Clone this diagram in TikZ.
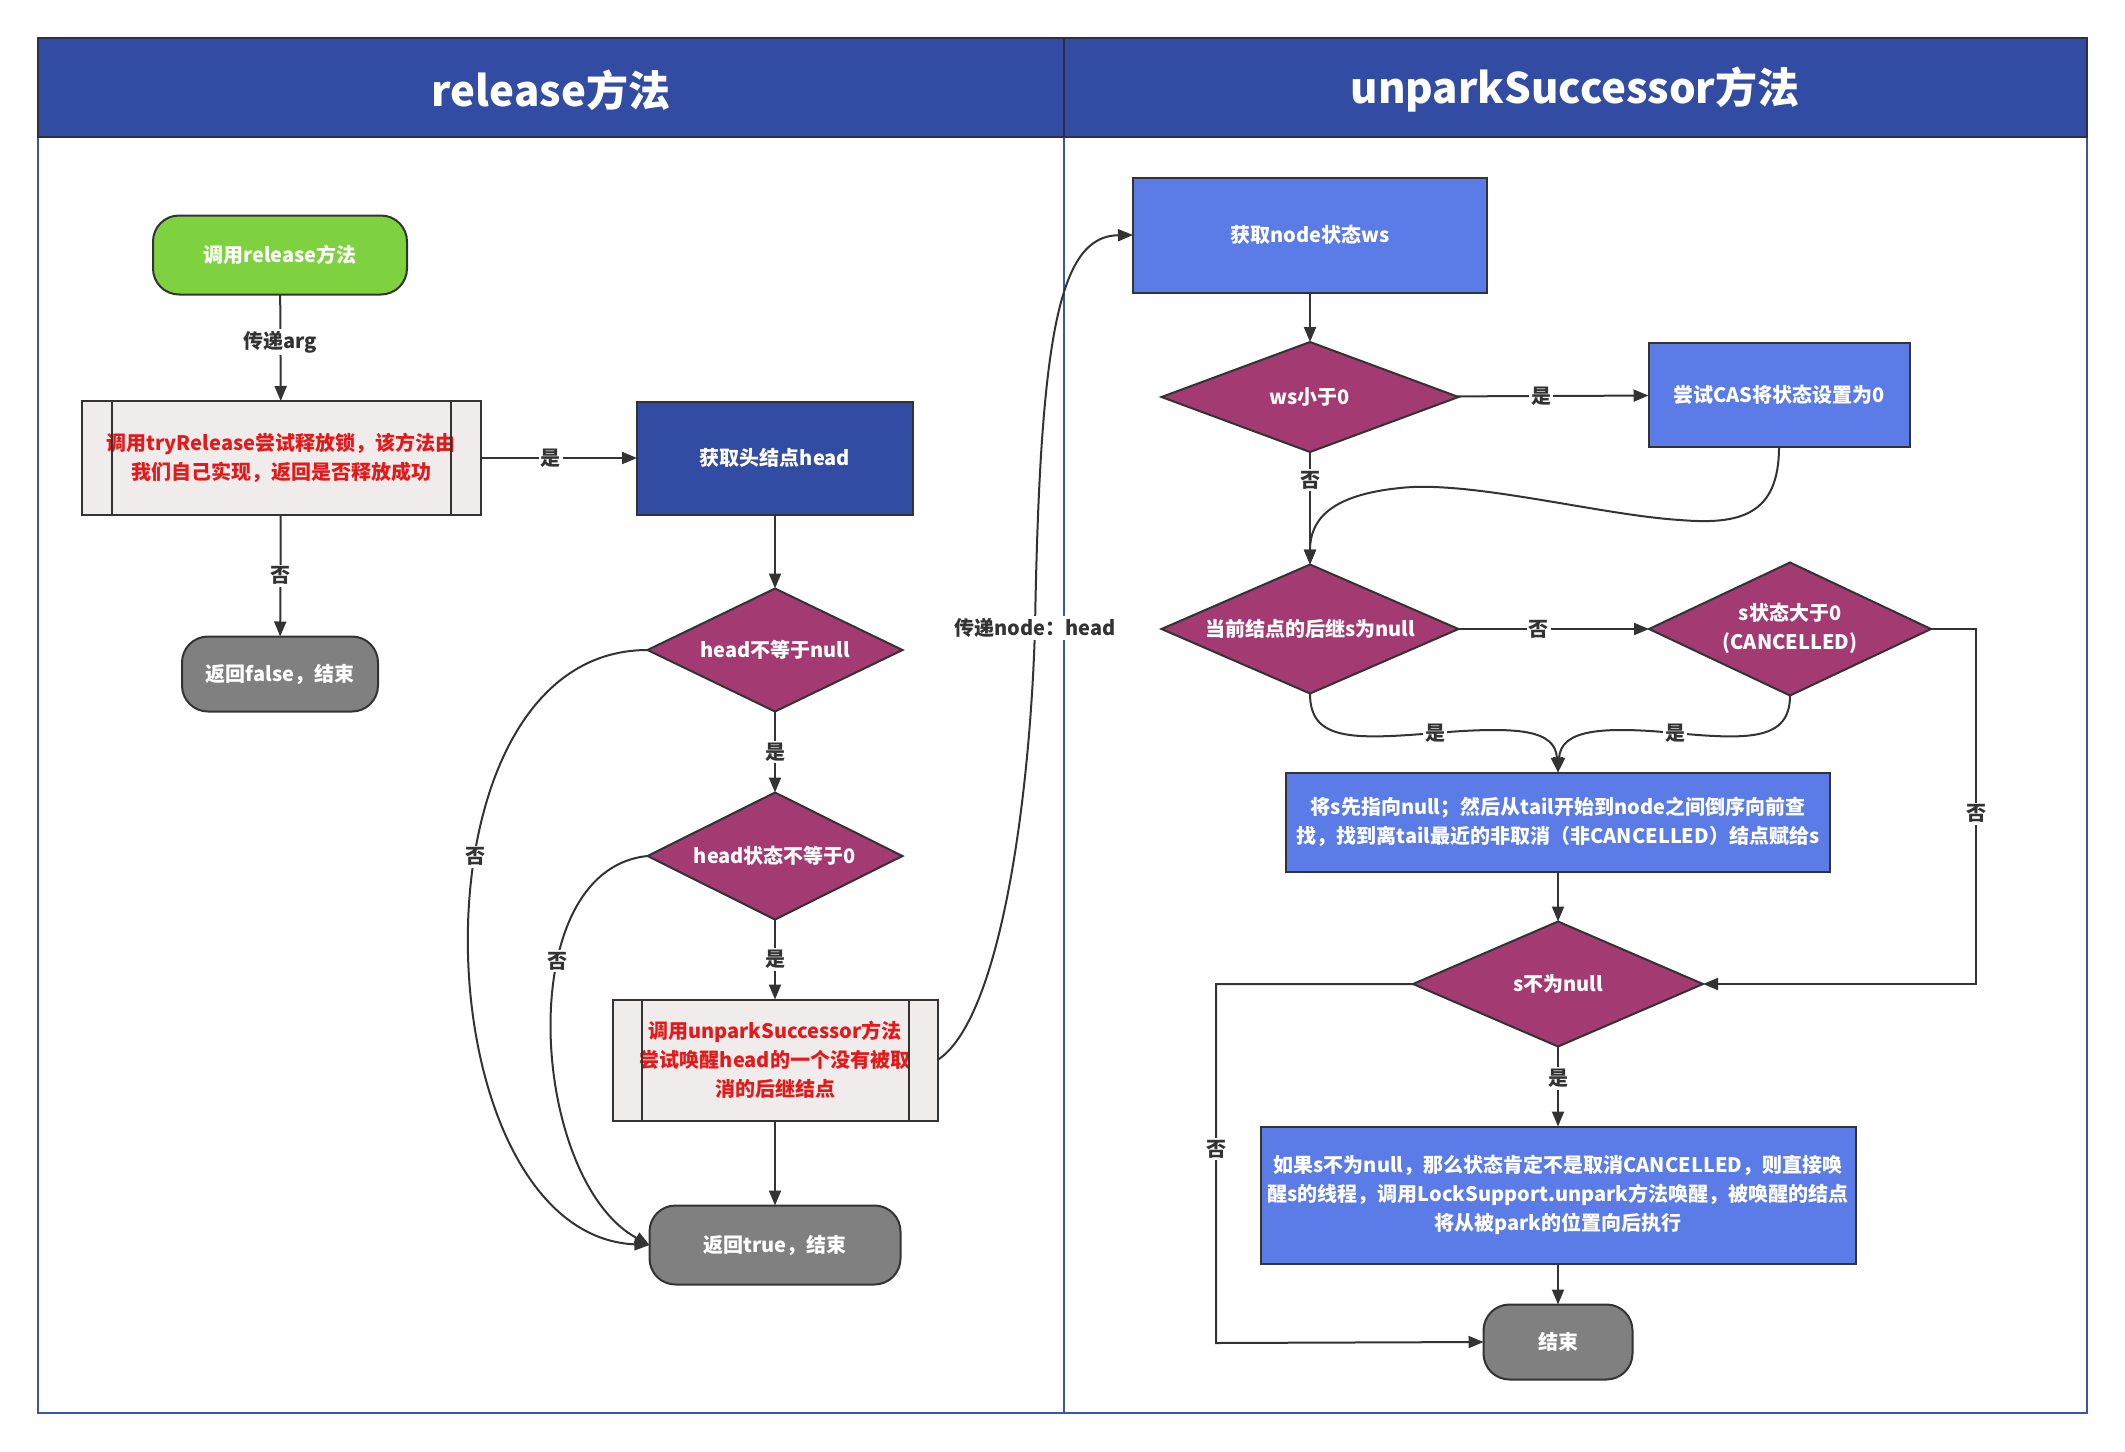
\documentclass[tikz,border=0pt]{standalone}
\usepackage{fontspec}
\setmainfont{Noto Sans CJK SC}
\usetikzlibrary{arrows.meta,shapes.geometric}
\definecolor{hdr}{HTML}{314CA2}
\definecolor{hdrline}{HTML}{2A3046}
\definecolor{greenA}{HTML}{7ED13F}
\definecolor{mag}{HTML}{A33A71}
\definecolor{lblue}{HTML}{5B7BE6}
\definecolor{dblue}{HTML}{314CA2}
\definecolor{greyA}{HTML}{808080}
\definecolor{proc}{HTML}{F0ECEC}
\definecolor{redt}{HTML}{E41A1A}
\definecolor{edgec}{HTML}{333333}
\definecolor{framec}{HTML}{3A56A8}
\tikzset{
  base/.style={draw=edgec, line width=2pt, font=\bfseries\fontsize{20}{29}\selectfont, align=center, inner sep=0pt, outer sep=0pt},
  term/.style={base, rounded corners=26pt, text=white},
  boxn/.style={base, rectangle, text=white},
  procn/.style={base, rectangle, fill=proc, text=redt},
  dia/.style={base, diamond, fill=mag, text=white},
  arr/.style={draw=edgec, line width=2pt, -{Triangle[length=15pt,width=12pt]}},
  lbl/.style={fill=white, inner sep=2pt, text=edgec, font=\bfseries\fontsize{20}{22}\selectfont},
  lblr/.style={fill=white, inner sep=2pt, text=edgec, font=\bfseries\fontsize{20}{22}\selectfont},
  ttl/.style={text=white, font=\bfseries\fontsize{42}{50}\selectfont}
}
\newcommand{\zw}[1]{\makebox[0pt]{#1}}
\begin{document}
\begin{tikzpicture}[x=1pt,y=-1pt]
\useasboundingbox (0,0) rectangle (2125,1451);
% frame
\draw[framec, line width=1.6pt] (38,137) rectangle (2087,1413);
\draw[framec, line width=1.6pt] (1064,137) -- (1064,1413);
\fill[hdr] (38,38) rectangle (2087,137);
\draw[hdrline, line width=2.2pt] (38,38) rectangle (2087,137);
\draw[hdrline, line width=2.2pt] (1064,38) -- (1064,137);
\node[ttl] (t1) at (551,90) {release方法};
\node[ttl] (t2) at (1575,90) {unparkSuccessor方法};

% left lane
\node[term, fill=greenA, minimum width=254, minimum height=79] (start) at (280,255) {调用release方法};
\node[procn, minimum width=399, minimum height=114] (try) at (281,458) {调用tryRelease尝试释放锁，该方法由\\我们自己实现，返回是否释放成功};
\draw[edgec, line width=2pt] ([xshift=30pt]try.north west) -- ([xshift=30pt]try.south west);
\draw[edgec, line width=2pt] ([xshift=-30pt]try.north east) -- ([xshift=-30pt]try.south east);
\node[boxn, fill=dblue, minimum width=276, minimum height=113] (head) at (775,458) {获取头结点head};
\node[term, fill=greyA, minimum width=196, minimum height=75] (rfalse) at (280,674) {返回false，结束};
\node[dia, minimum width=255, minimum height=123] (hnn) at (775,650) {\zw{head不等于null}};
\node[dia, minimum width=255, minimum height=127] (hs0) at (775,856) {\zw{head状态不等于0}};
\node[procn, minimum width=325, minimum height=121] (unp) at (775,1060) {调用unparkSuccessor方法\\尝试唤醒head的一个没有被取\\消的后继结点};
\draw[edgec, line width=2pt] ([xshift=29pt]unp.north west) -- ([xshift=29pt]unp.south west);
\draw[edgec, line width=2pt] ([xshift=-29pt]unp.north east) -- ([xshift=-29pt]unp.south east);
\node[term, fill=greyA, minimum width=251, minimum height=79] (rtrue) at (775,1245) {返回true，结束};

% right lane
\node[boxn, fill=lblue, minimum width=354, minimum height=115] (wsget) at (1310,235) {获取node状态ws};
\node[dia, minimum width=297, minimum height=110] (wslt) at (1310,397) {\zw{ws小于0}};
\node[boxn, fill=lblue, minimum width=261, minimum height=104] (cas) at (1779,395) {尝试CAS将状态设置为0};
\node[dia, minimum width=297, minimum height=129] (cur) at (1310,629) {\zw{当前结点的后继s为null}};
\node[dia, minimum width=282, minimum height=133] (scan) at (1790,629) {\zw{\begin{tabular}{@{}c@{}}s状态大于0\\(CANCELLED)\end{tabular}}};
\node[boxn, fill=lblue, minimum width=544, minimum height=99] (find) at (1558,822) {将s先指向null；然后从tail开始到node之间倒序向前查\\找，找到离tail最近的非取消（非CANCELLED）结点赋给s};
\node[dia, minimum width=290, minimum height=125] (snn) at (1558,984) {\zw{s不为null}};
\node[boxn, fill=lblue, minimum width=595, minimum height=137] (wake) at (1558,1195) {如果s不为null，那么状态肯定不是取消CANCELLED，则直接唤\\醒s的线程，调用LockSupport.unpark方法唤醒，被唤醒的结点\\将从被park的位置向后执行};
\node[term, fill=greyA, minimum width=149, minimum height=75] (endn) at (1558,1342) {结束};

% left connectors
\draw[arr] (start) -- node[lbl, pos=0.45]{传递arg} (try);
\draw[arr] (try) -- node[lbl, pos=0.45]{是} (head);
\draw[arr] (try) -- node[lbl]{否} (rfalse);
\draw[arr] (head) -- (hnn);
\draw[arr] (hnn) -- node[lbl]{是} (hs0);
\draw[arr] (hs0) -- node[lbl]{是} (unp);
\draw[arr] (unp) -- (rtrue);
\draw[arr] (hnn.west) .. controls (400,650) and (420,1235) .. node[lbl, pos=0.4]{否} (rtrue.west);
\draw[arr] (hs0.west) .. controls (510,870) and (530,1180) .. node[lbl, pos=0.36]{否} (rtrue.west);
\draw[arr] (unp.east) .. controls (1000,1020) and (1030,800) .. (1035,628) node[lblr]{传递node：head} .. controls (1040,330) and (1060,236) .. (wsget.west);

% right connectors
\draw[arr] (wsget) -- (wslt);
\draw[arr] (wslt) -- node[lbl, pos=0.44]{是} (cas);
\draw[arr] (wslt) -- node[lbl, pos=0.25]{否} (cur);
\draw[arr] (cas.south) .. controls (1779,515) and (1740,525) .. (1680,520) .. controls (1600,515) and (1470,480) .. (1400,488) .. controls (1330,495) and (1310,520) .. (cur.north);
\draw[arr] (cur) -- node[lbl, pos=0.42]{否} (scan);
\draw[arr] (cur.south) .. controls (1310,740) and (1350,740) .. (1435,733) node[lbl]{是} .. controls (1520,726) and (1555,730) .. (find.north);
\draw[arr] (scan.south) .. controls (1790,740) and (1750,740) .. (1675,733) node[lbl]{是} .. controls (1600,726) and (1561,730) .. (find.north);
\draw[arr] (scan.east) -- (1976,629) -- node[lbl, pos=0.52]{否} (1976,984) -- (snn.east);
\draw[arr] (find) -- (snn);
\draw[arr] (snn) -- node[lbl, pos=0.4]{是} (wake);
\draw[arr] (wake) -- (endn);
\draw[arr] (snn.west) -- (1216,984) -- node[lbl, pos=0.46]{否} (1216,1343) -- (endn.west);
\end{tikzpicture}
\end{document}
